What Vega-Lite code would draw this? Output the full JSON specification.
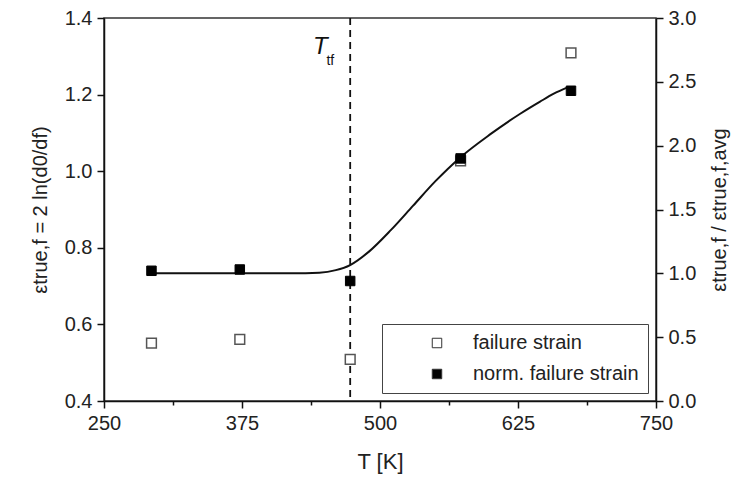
{
  "$schema": "https://vega.github.io/schema/vega-lite/v6.json",
  "width": 552,
  "height": 383,
  "autosize": {"type": "none"},
  "padding": {"left": 104, "top": 18, "right": 83, "bottom": 82},
  "config": {
    "font": "Liberation Sans",
    "view": {"stroke": "#333", "strokeWidth": 1.5},
    "axis": {
      "domainColor": "#111", "domainWidth": 1.5,
      "tickColor": "#111", "tickWidth": 1.5,
      "labelFont": "Liberation Sans", "labelFontSize": 20, "labelColor": "#222",
      "titleFont": "Liberation Sans", "titleFontSize": 20, "titleColor": "#222", "titleFontWeight": "normal",
      "grid": false, "labelOverlap": false, "labelFlush": false
    }
  },
  "datasets": {
    "points": [
      {"T": 293, "strain": 0.551, "norm": 1.02},
      {"T": 373, "strain": 0.561, "norm": 1.03},
      {"T": 473, "strain": 0.509, "norm": 0.94},
      {"T": 573, "strain": 1.027, "norm": 1.90},
      {"T": 673, "strain": 1.309, "norm": 2.43}
    ],
    "fit": [
      {"T": 293, "norm": 1.0},
      {"T": 350, "norm": 1.0},
      {"T": 420, "norm": 1.0},
      {"T": 445, "norm": 1.005},
      {"T": 460, "norm": 1.025},
      {"T": 473, "norm": 1.065},
      {"T": 490, "norm": 1.17},
      {"T": 510, "norm": 1.34},
      {"T": 530, "norm": 1.53},
      {"T": 550, "norm": 1.72},
      {"T": 573, "norm": 1.91},
      {"T": 600, "norm": 2.09},
      {"T": 627, "norm": 2.25},
      {"T": 645, "norm": 2.345},
      {"T": 657, "norm": 2.405},
      {"T": 671, "norm": 2.46}
    ],
    "marker": [{"T": 473, "Tlab": 446, "ylab": 1.325, "Tsub": 455, "ysub": 1.288}]
  },
  "layer": [
    {
      "layer": [
        {
          "data": {"name": "marker"},
          "mark": {"type": "rule", "color": "#111", "strokeWidth": 1.8, "strokeDash": [7, 5]},
          "encoding": {
            "x": {"field": "T", "type": "quantitative", "scale": {"domain": [250, 750], "zero": false, "nice": false},
              "axis": {
                "values": [250, 312.5, 375, 437.5, 500, 562.5, 625, 687.5, 750],
                "labelExpr": "round((datum.value-250)/62.5) % 2 == 0 ? format(datum.value, 'd') : ''",
                "tickSize": {"condition": {"test": "round((datum.value-250)/62.5) % 2 == 1", "value": 4}, "value": 7},
                "labelPadding": 5,
                "title": "T [K]", "titleFontSize": 22, "titlePadding": 18
              }}
          }
        },
        {
          "data": {"name": "marker"},
          "mark": {"type": "text", "fontSize": 24, "fontStyle": "italic", "color": "#111", "align": "center", "baseline": "middle"},
          "encoding": {
            "x": {"field": "Tlab", "type": "quantitative"},
            "y": {"field": "ylab", "type": "quantitative", "scale": {"domain": [0.4, 1.4], "zero": false, "nice": false}},
            "text": {"value": "T"}
          }
        },
        {
          "data": {"name": "marker"},
          "mark": {"type": "text", "fontSize": 14, "color": "#111", "align": "center", "baseline": "middle"},
          "encoding": {
            "x": {"field": "Tsub", "type": "quantitative"},
            "y": {"field": "ysub", "type": "quantitative"},
            "text": {"value": "tf"}
          }
        },
        {
          "data": {"name": "points"},
          "mark": {"type": "point", "shape": "square", "size": 95, "stroke": "#555", "strokeWidth": 1.5, "opacity": 1, "filled": false},
          "encoding": {
            "x": {"field": "T", "type": "quantitative"},
            "y": {"field": "strain", "type": "quantitative", "scale": {"domain": [0.4, 1.4], "zero": false, "nice": false},
              "axis": {
                "values": [0.4, 0.5, 0.6, 0.7, 0.8, 0.9, 1.0, 1.1, 1.2, 1.3, 1.4],
                "labelExpr": "round(datum.value*10) % 2 == 0 ? format(datum.value, '.1f') : ''",
                "tickSize": {"condition": {"test": "round(datum.value*10) % 2 == 1", "value": 4}, "value": 7},
                "labelPadding": 5,
                "title": "εtrue,f = 2 ln(d0/df)", "titlePadding": 14
              }},
            "fill": {"datum": "failure strain", "type": "nominal",
              "scale": {"domain": ["failure strain", "norm. failure strain"], "range": ["white", "black"]},
              "legend": {
                "orient": "none", "legendX": 278, "legendY": 306,
                "title": null, "symbolType": "square", "symbolSize": 90,
                "symbolStrokeColor": "#333", "symbolStrokeWidth": 1,
                "labelFontSize": 20, "labelFont": "Liberation Sans", "labelColor": "#222", "labelLimit": 400,
                "labelOffset": 26, "symbolOffset": 36, "rowPadding": 11,
                "padding": 9, "strokeColor": "#444", "fillColor": "white"
              }}
          }
        }
      ]
    },
    {
      "layer": [
        {
          "data": {"name": "fit"},
          "mark": {"type": "line", "color": "#111", "strokeWidth": 2, "interpolate": "monotone"},
          "encoding": {
            "x": {"field": "T", "type": "quantitative"},
            "y": {"field": "norm", "type": "quantitative", "scale": {"domain": [0, 3], "nice": false},
              "axis": {
                "orient": "right",
                "values": [0, 0.25, 0.5, 0.75, 1, 1.25, 1.5, 1.75, 2, 2.25, 2.5, 2.75, 3],
                "labelExpr": "round(datum.value*4) % 2 == 0 ? format(datum.value, '.1f') : ''",
                "tickSize": {"condition": {"test": "round(datum.value*4) % 2 == 1", "value": 4}, "value": 7},
                "labelPadding": 5,
                "title": "εtrue,f / εtrue,f,avg", "titleAngle": -90, "titleBaseline": "top", "titlePadding": 14
              }}
          }
        },
        {
          "data": {"name": "points"},
          "mark": {"type": "point", "shape": "square", "size": 90, "stroke": "black", "strokeWidth": 1, "opacity": 1, "filled": true},
          "encoding": {
            "x": {"field": "T", "type": "quantitative"},
            "y": {"field": "norm", "type": "quantitative"},
            "fill": {"datum": "norm. failure strain", "type": "nominal"}
          }
        }
      ]
    }
  ],
  "resolve": {"scale": {"y": "independent"}, "axis": {"y": "independent"}}
}
